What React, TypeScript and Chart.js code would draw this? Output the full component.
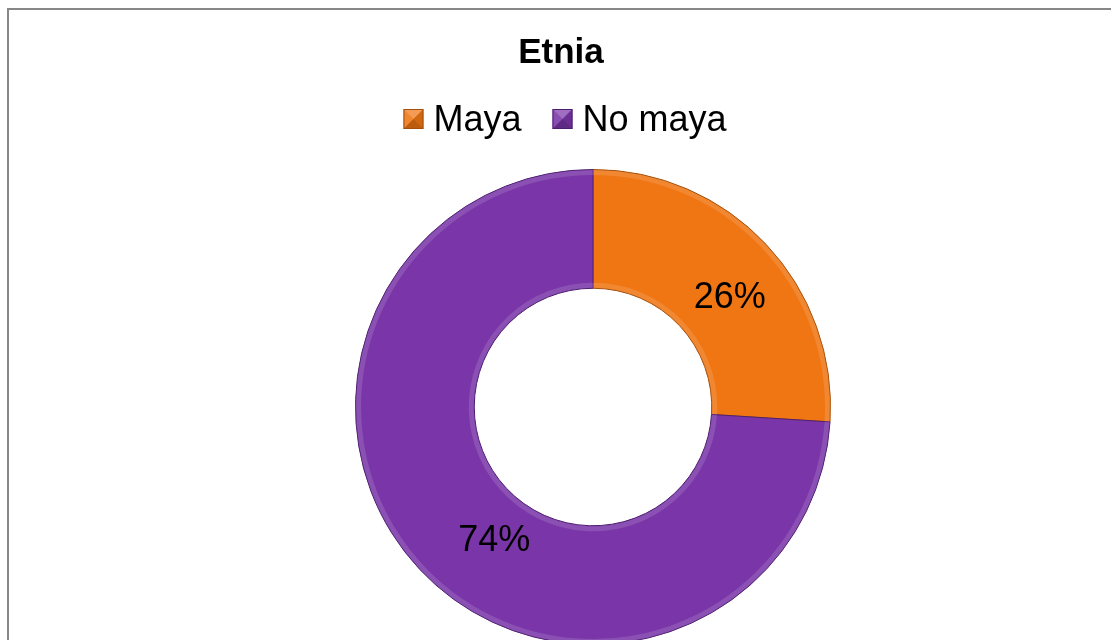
import { useEffect, useRef } from "react";
import { Chart, registerables } from "chart.js";

Chart.register(...registerables);

const categories = ["Maya", "No maya"];
const values = [26, 74];
const sliceColors = ["#F07614", "#7A36A8"];
const sliceEdges = ["#A4500C", "#4E1F70"];
const titleText = "Etnia";

const FONT = "'Liberation Sans', Arial, Helvetica, sans-serif";

function bevelBox(ctx: CanvasRenderingContext2D, x: number, y: number, s: number, base: string, edge: string) {
  ctx.save();
  ctx.fillStyle = base;
  ctx.fillRect(x, y, s, s);
  const c = { x: x + s / 2, y: y + s / 2 };
  const tri = (pts: number[][], color: string) => {
    ctx.beginPath();
    ctx.moveTo(pts[0][0], pts[0][1]);
    ctx.lineTo(pts[1][0], pts[1][1]);
    ctx.lineTo(pts[2][0], pts[2][1]);
    ctx.closePath();
    ctx.fillStyle = color;
    ctx.fill();
  };
  tri([[x, y], [x + s, y], [c.x, c.y]], "rgba(255,255,255,0.28)");
  tri([[x, y], [x, y + s], [c.x, c.y]], "rgba(255,255,255,0.12)");
  tri([[x + s, y], [x + s, y + s], [c.x, c.y]], "rgba(0,0,0,0.12)");
  tri([[x, y + s], [x + s, y + s], [c.x, c.y]], "rgba(0,0,0,0.22)");
  ctx.strokeStyle = edge;
  ctx.lineWidth = 1;
  ctx.strokeRect(x + 0.5, y + 0.5, s - 1, s - 1);
  ctx.restore();
}

export default function App() {
  const ref = useRef<HTMLCanvasElement>(null);

  useEffect(() => {
    if (!ref.current) return;
    const total = values.reduce((a, b) => a + b, 0);
    const nudges = [
      [7, 10],
      [31, 9],
    ];

    const overlay = {
      id: "overlay",
      afterDatasetsDraw(chart: any) {
        const ctx: CanvasRenderingContext2D = chart.ctx;
        const meta = chart.getDatasetMeta(0);
        meta.data.forEach((arc: any) => {
          const p = arc.getProps(["x", "y", "startAngle", "endAngle", "innerRadius", "outerRadius"], true);
          ctx.save();
          ctx.beginPath();
          ctx.arc(p.x, p.y, p.outerRadius, p.startAngle, p.endAngle);
          ctx.arc(p.x, p.y, p.innerRadius, p.endAngle, p.startAngle, true);
          ctx.closePath();
          ctx.clip();
          ctx.lineWidth = 5;
          ctx.strokeStyle = "rgba(255,255,255,0.13)";
          ctx.beginPath();
          ctx.arc(p.x, p.y, p.outerRadius - 3, p.startAngle, p.endAngle);
          ctx.stroke();
          ctx.beginPath();
          ctx.arc(p.x, p.y, p.innerRadius + 3, p.startAngle, p.endAngle);
          ctx.stroke();
          ctx.restore();
        });
      },
      afterDraw(chart: any) {
        const ctx: CanvasRenderingContext2D = chart.ctx;
        // title
        ctx.save();
        ctx.fillStyle = "#000";
        ctx.font = `bold 35px ${FONT}`;
        ctx.textAlign = "center";
        ctx.textBaseline = "alphabetic";
        ctx.fillText(titleText, 561, 63);
        ctx.restore();

        // legend
        ctx.save();
        ctx.font = `36px ${FONT}`;
        ctx.textBaseline = "alphabetic";
        ctx.textAlign = "left";
        const box = 20;
        const gapText = 10;
        const gapItem = 31;
        const widths = categories.map((c) => ctx.measureText(c).width);
        const totalW = widths.reduce((a, w) => a + box + gapText + w, 0) + gapItem * (categories.length - 1);
        let x = 565 - totalW / 2;
        categories.forEach((c, i) => {
          bevelBox(ctx, x, 109, box, sliceColors[i], sliceEdges[i]);
          ctx.fillStyle = "#000";
          ctx.fillText(c, x + box + gapText, 131);
          x += box + gapText + widths[i] + gapItem;
        });
        ctx.restore();

        // data labels
        const meta = chart.getDatasetMeta(0);
        ctx.save();
        ctx.font = `36px ${FONT}`;
        ctx.fillStyle = "#000";
        ctx.textAlign = "center";
        ctx.textBaseline = "alphabetic";
        meta.data.forEach((arc: any, i: number) => {
          const p = arc.getProps(["x", "y", "startAngle", "endAngle", "innerRadius", "outerRadius"], true);
          const mid = (p.startAngle + p.endAngle) / 2;
          const r = (p.innerRadius + p.outerRadius) / 2;
          const lx = p.x + Math.cos(mid) * r + nudges[i][0];
          const ly = p.y + Math.sin(mid) * r + nudges[i][1] + 13;
          ctx.fillText(Math.round((values[i] / total) * 100) + "%", lx, ly);
        });
        ctx.restore();
      },
    };

    const chart = new Chart(ref.current, {
      type: "doughnut",
      data: {
        labels: categories,
        datasets: [
          {
            data: values,
            backgroundColor: sliceColors,
            borderColor: sliceEdges,
            borderWidth: 1,
          },
        ],
      },
      options: {
        responsive: false,
        animation: false,
        cutout: "50%",
        layout: { padding: { left: 355, right: 280, top: 169, bottom: 55 } },
        plugins: {
          legend: { display: false },
          title: { display: false },
          tooltip: { enabled: false },
        },
      },
      plugins: [overlay],
    });
    return () => chart.destroy();
  }, []);

  return (
    <div style={{ position: "fixed", left: 0, top: 0, width: 1111, height: 640, overflow: "hidden", background: "#fff" }}>
      <canvas ref={ref} width={1111} height={700} style={{ position: "absolute", left: 0, top: 0, width: 1111, height: 700 }} />
      <div
        style={{
          position: "absolute",
          left: 7,
          top: 8,
          width: 1300,
          height: 900,
          border: "2px solid #878787",
          pointerEvents: "none",
        }}
      />
    </div>
  );
}
